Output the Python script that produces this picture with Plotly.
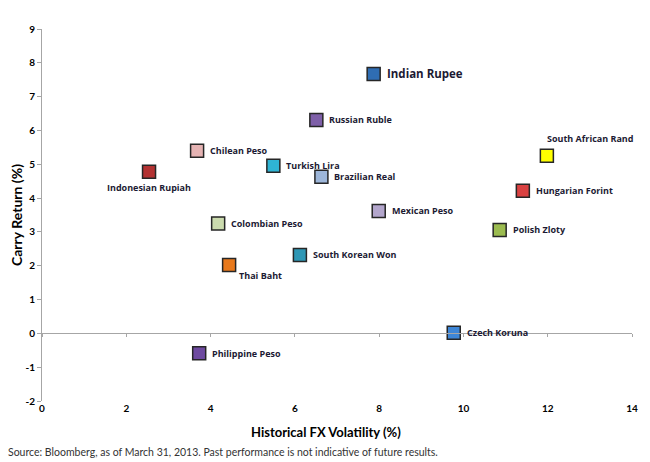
import plotly.graph_objects as go

currencies = ["Indian Rupee", "Russian Ruble", "Chilean Peso", "Indonesian Rupiah", "Turkish Lira",
              "Brazilian Real", "Colombian Peso", "Mexican Peso", "Thai Baht", "South Korean Won",
              "South African Rand", "Hungarian Forint", "Polish Zloty", "Czech Koruna", "Philippine Peso"]
volatility = [7.87, 6.51, 3.68, 2.54, 5.49, 6.63, 4.18, 7.99, 4.44, 6.12, 11.98, 11.41, 10.86, 9.77, 3.73]
carry = [7.67, 6.31, 5.40, 4.78, 4.96, 4.63, 3.25, 3.62, 2.02, 2.32, 5.25, 4.22, 3.06, 0.02, -0.59]
colors = ["#2F6DB3", "#7E5FA8", "#E5B3B3", "#B33232", "#2FB4D4", "#9DB6D9", "#CBDBAE", "#B3A6CC",
          "#E8791C", "#2E97B5", "#FFFF00", "#D94141", "#9BBB4F", "#3E86D6", "#6E4AA0"]

x_ticks = [0, 2, 4, 6, 8, 10, 12, 14]
y_ticks = [-2, -1, 0, 1, 2, 3, 4, 5, 6, 7, 8, 9]
y_tick_text = ["-2", "-1", "0", "1", "2", "3", "4", "5", "6", "7", "8", "9"]

x_title = "Historical FX Volatility (%)"
y_title = "Carry Return (%)"
source_note = "Source: Bloomberg, as of March 31, 2013. Past performance is not indicative of future results."

# label placement style: (xanchor, xshift, yshift, font size)
label_style = {
    "Indian Rupee": ("left", 11, 0, 11.5),
    "Indonesian Rupiah": ("center", 0, -16, 9),
    "Thai Baht": ("left", 8, -10, 9),
    "South African Rand": ("left", -2, 17, 9),
}

fig = go.Figure()
fig.add_trace(go.Scatter(
    x=volatility, y=carry, mode="markers",
    marker=dict(symbol="square", size=13, color=colors,
                line=dict(color="#262626", width=1.5)),
    hovertext=currencies, showlegend=False, cliponaxis=False,
))

annotations = []
for name, xv, yv in zip(currencies, volatility, carry):
    anchor, xs, ys, fs = label_style.get(name, ("left", 11, 0, 9))
    annotations.append(dict(
        x=xv, y=yv, xref="x", yref="y", text=name, showarrow=False,
        xanchor=anchor, yanchor="middle", xshift=xs, yshift=ys,
        font=dict(family="Open Sans", size=fs, color="#1C1A33", weight="bold"),
    ))

annotations.append(dict(
    x=0, y=0, xref="paper", yref="paper", xanchor="left", yanchor="middle",
    text=source_note, showarrow=False,
    font=dict(family="Lato", size=10.5, color="#333333"),
    xshift=-36, yshift=-51,
))
annotations.append(dict(
    x=0.4814, y=0, xref="paper", yref="paper", xanchor="center", yanchor="middle",
    text=x_title, showarrow=False, yshift=-31,
    font=dict(family="Lato", size=13, color="#000", weight="bold"),
))
annotations.append(dict(
    x=0, y=0.5, xref="paper", yref="paper", xanchor="center", yanchor="middle",
    text=y_title, showarrow=False, xshift=-26, textangle=-90,
    font=dict(family="Lato", size=14, color="#000", weight="bold"),
))

fig.update_layout(
    width=650, height=462,
    margin=dict(l=42, r=18, t=29, b=61),
    paper_bgcolor="white", plot_bgcolor="white",
    annotations=annotations,
    xaxis=dict(range=[0, 14], tickvals=x_ticks, showgrid=False, zeroline=False, showline=False,
               ticks="", automargin=False,
               tickfont=dict(family="Lato", size=10, color="#000", weight="bold"),
               fixedrange=True),
    xaxis2=dict(range=[0, 14], tickvals=x_ticks, overlaying="x", anchor="free",
                position=2 / 11, showgrid=False, zeroline=False, showline=True,
                linecolor="#A6A6A6", linewidth=1, ticks="outside", ticklen=3,
                tickcolor="#A6A6A6", showticklabels=False, automargin=False),
    yaxis=dict(range=[-2, 9], tickvals=y_ticks, ticktext=y_tick_text, showgrid=False,
               zeroline=False, showline=True, automargin=False,
               linecolor="#A6A6A6", linewidth=1, ticks="outside", ticklen=4, tickcolor="#A6A6A6",
               tickfont=dict(family="Lato", size=10, color="#000", weight="bold"),
               fixedrange=True),
)
# dummy trace to activate xaxis2
fig.add_trace(go.Scatter(x=[None], y=[None], xaxis="x2", showlegend=False))

fig.write_html("out.html")
